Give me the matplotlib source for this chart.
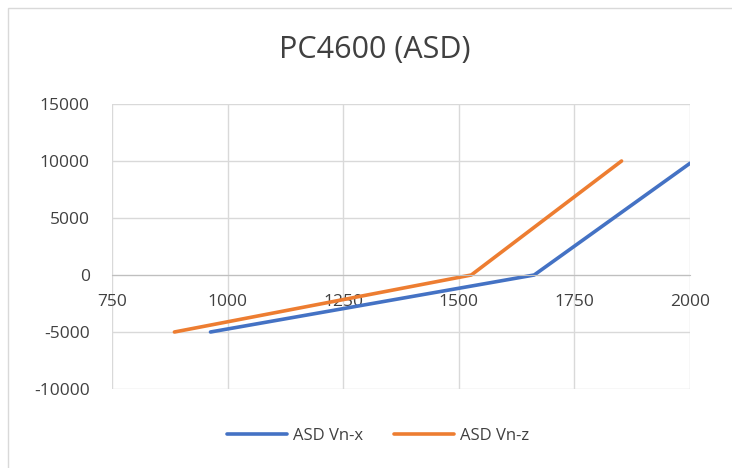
import matplotlib.pyplot as plt
from matplotlib.patches import Rectangle

# data
vnx_x = [963, 1663, 2000]
vnx_y = [-5000, 0, 9800]
vnz_x = [885, 1527, 1852]
vnz_y = [-5000, 0, 10000]
x_ticks = [750, 1000, 1250, 1500, 1750, 2000]
y_ticks = [-10000, -5000, 0, 5000, 10000, 15000]

plt.rcParams['font.family'] = ['Open Sans', 'DejaVu Sans']
plt.rcParams['axes.unicode_minus'] = False

fig = plt.figure(figsize=(7.32, 4.68), dpi=100)
fig.patches.append(Rectangle((8 / 732, -0.1), 1.1, 1 - 8 / 468 + 0.1, transform=fig.transFigure,
                             fill=False, edgecolor='#d9d9d9', lw=1))
ax = fig.add_axes([112 / 732, 1 - 389 / 468, (690 - 112) / 732, (389 - 104) / 468])

ax.plot(vnx_x, vnx_y, color='#4472C4', lw=2.6, label='ASD Vn-x', solid_capstyle='round')
ax.plot(vnz_x, vnz_y, color='#ED7D31', lw=2.6, label='ASD Vn-z', solid_capstyle='round')

ax.set_xlim(750, 2000)
ax.set_ylim(-10000, 15000)
ax.set_xticks(x_ticks)
ax.set_yticks(y_ticks)
ax.grid(True, color='#d9d9d9', lw=1)
ax.set_axisbelow(True)
for s in ['top', 'right', 'left']:
    ax.spines[s].set_visible(False)
ax.spines['bottom'].set_position(('data', 0))
ax.spines['bottom'].set_color('#bfbfbf')
ax.tick_params(length=0, labelsize=12.5, colors='#404040')
ax.tick_params(axis='x', pad=14)
ax.tick_params(axis='y', pad=16)

fig.text(375 / 732, 1 - 50 / 468, 'PC4600 (ASD)', ha='center', va='center', fontsize=22, color='#404040')
fig.legend(loc='center', bbox_to_anchor=(378 / 732, 1 - 436 / 468), ncol=2, frameon=False,
           fontsize=12, labelcolor='#404040', handlelength=3.6, columnspacing=1.8, handletextpad=0.4)

fig.savefig('out.png', dpi=100)
